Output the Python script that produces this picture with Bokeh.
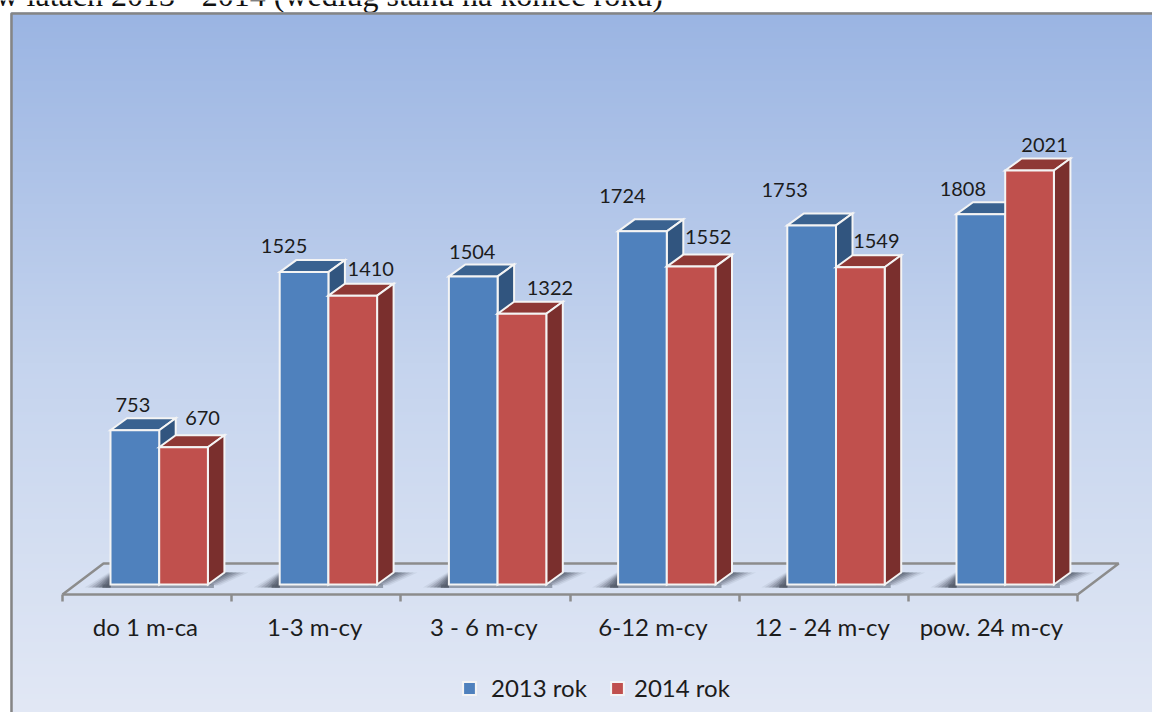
import numpy as np
from bokeh.plotting import figure
from bokeh.models import LinearAxis, FixedTicker, Legend, LegendItem
from bokeh.core.properties import value
from bokeh.embed import file_html
from bokeh.resources import INLINE

categories = ["do 1 m-ca", "1-3 m-cy", "3 - 6 m-cy", "6-12 m-cy", "12 - 24 m-cy", "pow. 24 m-cy"]
series_2013 = [753, 1525, 1504, 1724, 1753, 1808]
series_2014 = [670, 1410, 1322, 1552, 1549, 2021]
series_names = ["2013 rok", "2014 rok"]
title_text = "w latach 2013 - 2014 (według stanu na koniec roku)"

# layout (pixels of the picture)
W, H = 1152, 712
CAT_W = 169.2
X0_PX = 62
Y0_PX = 584
PX_PER_UNIT = 414 / 2021
ux = 1 / CAT_W
uy = 1 / PX_PER_UNIT
def X(px): return (px - X0_PX) * ux
def Y(py): return (Y0_PX - py) * uy

p = figure(width=W, height=H, output_backend="svg", toolbar_location=None,
           x_range=(X(0), X(W)), y_range=(Y(H), Y(0)),
           min_border=0, min_border_left=0, min_border_right=0, min_border_top=0, min_border_bottom=0,
           x_axis_type=None, y_axis_type=None)
p.grid.visible = False
p.outline_line_color = None
p.background_fill_color = "white"
p.border_fill_color = "white"

# title clipped by the top of the page
p.text([X(-5)], [Y(-6)], text=[title_text], text_font=value("Liberation Serif"), text_font_size="32px",
       text_color="#111111", text_align="left", text_baseline="alphabetic")

# gradient panel
FR_L, FR_T = 10, 12
stops_y = np.array([0.0, 0.5, 1.0])
stops = np.array([[155, 181, 227], [197, 212, 238], [226, 232, 245]], dtype=float)
n = 256
t = np.linspace(1, 0, n)
img = np.zeros((n, 1), dtype=np.uint32)
view = img.view(np.uint8).reshape((n, 1, 4))
for c in range(3):
    view[:, 0, c] = np.interp(t, stops_y, stops[:, c]).astype(np.uint8)
view[:, 0, 3] = 255
p.image_rgba(image=[img], x=[X(FR_L)], y=[Y(H)], dw=[X(W) - X(FR_L)], dh=[Y(FR_T) - Y(H)])

# panel border (top and left)
p.line([X(FR_L + 1), X(FR_L + 1), X(W)], [Y(H), Y(FR_T + 1), Y(FR_T + 1)], line_color="#858585", line_width=2.5)

# floor
n_cat = len(categories)
FD_X, FD_Y = 41, 31
FLOOR = 594
fy0, fy1 = Y(FLOOR), Y(FLOOR - FD_Y)
p.line([0, FD_X * ux, n_cat + FD_X * ux, n_cat], [fy0, fy1, fy1, fy0], line_color="#8c8c8c", line_width=2.5)

# ticks axis (category borders) and labels axis
tick_axis = LinearAxis(fixed_location=fy0, ticker=FixedTicker(ticks=list(range(n_cat + 1))),
                       bounds=(0, n_cat),
                       major_tick_out=7, major_tick_in=0, minor_tick_line_color=None,
                       axis_line_color="#8c8c8c", axis_line_width=2.5,
                       major_tick_line_color="#8c8c8c", major_tick_line_width=2.5,
                       major_label_text_font_size="0px", major_label_text_color=None)
p.add_layout(tick_axis, "below")
centers = [i + 0.49 for i in range(n_cat)]
label_axis = LinearAxis(fixed_location=fy0, ticker=FixedTicker(ticks=centers),
                        major_label_overrides={c: l for c, l in zip(centers, categories)},
                        axis_line_color=None, major_tick_line_color=None, minor_tick_line_color=None,
                        major_tick_out=0, major_tick_in=0, major_label_standoff=17,
                        major_label_text_font="Lato", major_label_text_font_size="24px",
                        major_label_text_color="#1c1c1c")
p.add_layout(label_axis, "below")

BAR_OFF, BAR_W = 48, 48.7
DX, DY = 16.5, 12

# floor shadows
for k in range(7):
    a = 0.09 + 0.06 * k
    inset = k * 3.5
    xs_l, ys_l, xs_r, ys_r = [], [], [], []
    for i in range(n_cat):
        left = X0_PX + CAT_W * i + BAR_OFF
        right = left + 2 * BAR_W
        xs_l.append([X(left - 26 + inset), X(left), X(left)])
        ys_l.append([Y(587), Y(587), Y(571 + k)])
        xs_r.append([X(right), X(right + DX), X(right + DX + 24 - inset * 1.1), X(right + 12 - inset)])
        ys_r.append([Y(Y0_PX), Y(Y0_PX - DY), Y(Y0_PX - DY), Y(Y0_PX + 1)])
    p.patches(xs_l, ys_l, fill_color="#4f5766", fill_alpha=a, line_color=None)
    p.patches(xs_r, ys_r, fill_color="#4f5766", fill_alpha=a, line_color=None)
for i in range(n_cat):
    p.quad(left=X(X0_PX + CAT_W * i + BAR_OFF - 8), right=X(X0_PX + CAT_W * i + BAR_OFF + 2 * BAR_W + 6),
           bottom=Y(587.5), top=Y(Y0_PX), fill_color="#4f5766", fill_alpha=0.5, line_color=None)

edge = dict(line_color="#f4f4f4", line_width=2, line_join="miter")
renderers = []
series = [(series_2013, 0, "#4F81BD", "#3A6290", "#31557F"),
          (series_2014, 1, "#C0504D", "#8E3835", "#7A2F2D")]
for vals, s, front, top_c, side_c in series:
    lefts = np.array([i + (BAR_OFF + s * BAR_W) * ux for i in range(n_cat)])
    rights = lefts + BAR_W * ux
    v = np.array(vals, dtype=float)
    dx, dy = DX * ux, DY * uy
    p.patches([[l, l + dx, r + dx, r] for l, r in zip(lefts, rights)],
              [[t_, t_ + dy, t_ + dy, t_] for t_ in v], fill_color=top_c, **edge)
    p.patches([[r, r + dx, r + dx, r] for r in rights],
              [[0, dy, t_ + dy, t_] for t_ in v], fill_color=side_c, **edge)
    renderers.append(p.quad(left=lefts, right=rights, bottom=0, top=v, fill_color=front, **edge))

# value labels
off_2013 = [(-2, -25), (-20, -26), (-1, -24), (-20, -35), (-27, -35), (-18, -25)]
off_2014 = [(19, -29), (18, -27), (28, -26), (17, -30), (16, -26), (15, -26)]
for vals, s, offs in ((series_2013, 0, off_2013), (series_2014, 1, off_2014)):
    xs = [i + (BAR_OFF + (s + 0.5) * BAR_W + o[0]) * ux for i, o in enumerate(offs)]
    ys = [val - o[1] * uy for val, o in zip(vals, offs)]
    p.text(xs, ys, text=[str(val) for val in vals], text_font=value("Lato"), text_font_size="20px",
           text_color="#1c1c1c", text_align="center", text_baseline="middle")

for name, rend, loc_x, standoff in ((series_names[0], renderers[0], 461, 14), (series_names[1], renderers[1], 609, 9)):
    legend = Legend(items=[LegendItem(label=value(name), renderers=[rend])],
                    location=(loc_x, 10), orientation="horizontal", background_fill_alpha=0, border_line_color=None,
                    glyph_width=16, glyph_height=16, label_standoff=standoff, padding=8, margin=0,
                    label_text_font="Lato", label_text_font_size="24px", label_text_color="#1c1c1c")
    p.add_layout(legend, "center")

open("out.html", "w").write(file_html(p, INLINE))
